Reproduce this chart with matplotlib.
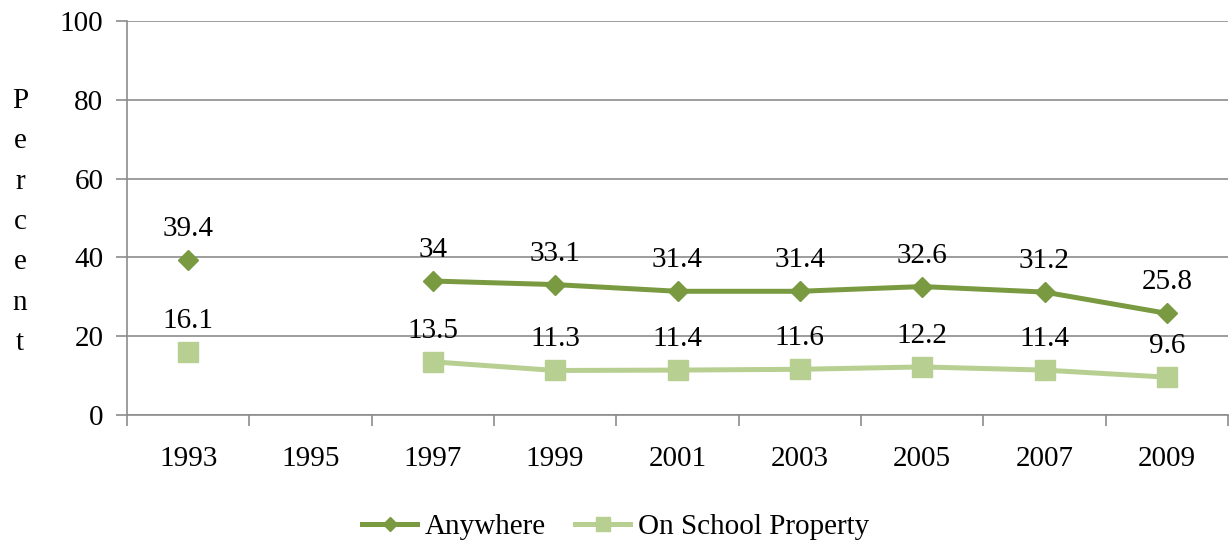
import numpy as np
import matplotlib
matplotlib.use("Agg")
import matplotlib.pyplot as plt

years = ["1993", "1995", "1997", "1999", "2001", "2003", "2005", "2007", "2009"]
anywhere = [39.4, np.nan, 34.0, 33.1, 31.4, 31.4, 32.6, 31.2, 25.8]
school = [16.1, np.nan, 13.5, 11.3, 11.4, 11.6, 12.2, 11.4, 9.6]
anywhere_labels = ["39.4", "", "34", "33.1", "31.4", "31.4", "32.6", "31.2", "25.8"]
school_labels = ["16.1", "", "13.5", "11.3", "11.4", "11.6", "12.2", "11.4", "9.6"]

c_any = "#7A9A41"
c_sch = "#B8CF92"
grid_c = "#8C8C8C"

plt.rcParams["font.family"] = ["Liberation Serif", "DejaVu Serif"]
fs = 21

fig = plt.figure(figsize=(12.31, 5.44), dpi=100)
ax = fig.add_axes([127/1231, 1-415/544, (1228-127)/1231, (415-21)/544])

x = np.arange(len(years))
ax.plot(x, anywhere, color=c_any, lw=3.6, marker="D", ms=10, mec=c_any, mfc=c_any,
        label="Anywhere", zorder=3)
ax.plot(x, school, color=c_sch, lw=3.6, marker="s", ms=14, mec=c_sch, mfc=c_sch,
        label="On School Property", zorder=3)

for xi, v, t in zip(x, anywhere, anywhere_labels):
    if t:
        ax.annotate(t, (xi, v), xytext=(0, 13), textcoords="offset points",
                    ha="center", va="bottom", fontsize=fs)
for xi, v, t in zip(x, school, school_labels):
    if t:
        ax.annotate(t, (xi, v), xytext=(0, 13), textcoords="offset points",
                    ha="center", va="bottom", fontsize=fs)

ax.set_xlim(-0.5, len(years) - 0.5)
ax.set_ylim(0, 100)
ax.set_yticks(np.arange(0, 101, 20))
ax.set_xticks(x)
ax.set_xticklabels(years)
ax.set_xticks(np.arange(-0.5, len(years)), minor=True)
ax.tick_params(axis="x", which="major", length=0, pad=22, labelsize=fs)
ax.tick_params(axis="x", which="minor", length=8, width=1.2, color=grid_c)
ax.tick_params(axis="y", length=8, width=1.2, color=grid_c, pad=9, labelsize=fs)
ax.yaxis.grid(True, color=grid_c, lw=1.2)
ax.set_axisbelow(True)
for s in ["top", "right"]:
    ax.spines[s].set_visible(False)
for s in ["left", "bottom"]:
    ax.spines[s].set_color(grid_c)
    ax.spines[s].set_linewidth(1.2)

fig.text(20/1231, 1-222/544, "P\ne\nr\nc\ne\nn\nt", ha="center", va="center",
         fontsize=fs, linespacing=1.72)

fig.legend(loc="center", bbox_to_anchor=(0.5, 1-527/544), ncol=2, frameon=False,
           fontsize=fs, handlelength=1.9, handletextpad=0.25, columnspacing=1.0,
           markerscale=0.75)

fig.savefig("out.png", dpi=100)
